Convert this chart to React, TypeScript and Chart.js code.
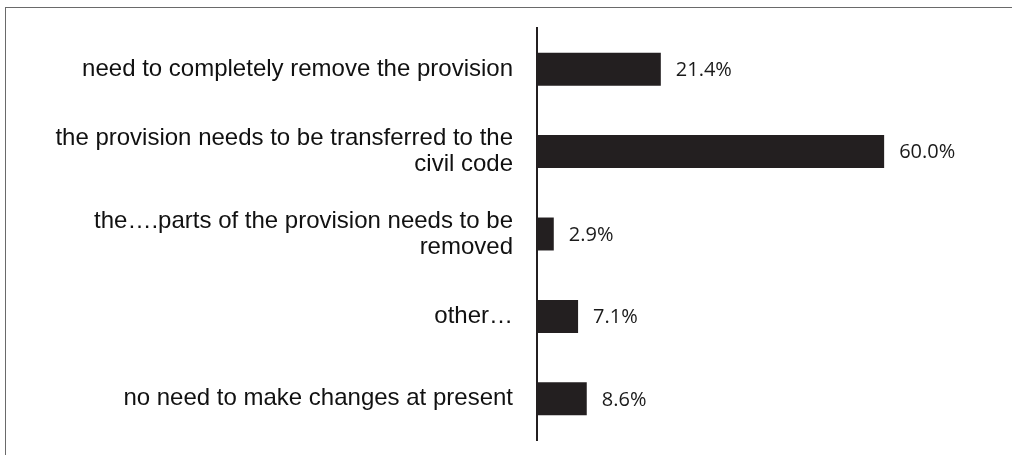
import React, { useEffect, useRef } from "react";
import { Chart, registerables } from "chart.js";

Chart.register(...registerables);

const categories: (string | string[])[] = [
  "need to completely remove the provision",
  ["the provision needs to be transferred to the", "civil code"],
  ["the\u2026.parts of the provision needs to be", "removed"],
  "other\u2026",
  "no need to make changes at present",
];
const values: number[] = [21.4, 60.0, 2.9, 7.1, 8.6];
const valueLabels: string[] = ["21.4%", "60.0%", "2.9%", "7.1%", "8.6%"];

const valueLabelPlugin = {
  id: "valueLabels",
  afterDatasetsDraw(chart: any) {
    const ctx = chart.ctx;
    const meta = chart.getDatasetMeta(0);
    ctx.save();
    ctx.font = '20px "Open Sans"';
    ctx.fillStyle = "#1a1a1a";
    ctx.textAlign = "left";
    ctx.textBaseline = "middle";
    meta.data.forEach((bar: any, i: number) => {
      ctx.fillText(valueLabels[i], bar.x + 15, bar.y + 1);
    });
    ctx.restore();
  },
};

export default function App() {
  const canvasRef = useRef<HTMLCanvasElement | null>(null);

  useEffect(() => {
    if (!canvasRef.current) return;
    const chart = new Chart(canvasRef.current, {
      type: "bar",
      data: {
        labels: categories,
        datasets: [
          {
            data: values,
            backgroundColor: "#231F20",
            borderWidth: 0,
            categoryPercentage: 0.8,
            barPercentage: 0.5,
          },
        ],
      },
      options: {
        indexAxis: "y",
        responsive: false,
        animation: false,
        layout: { padding: { top: 28, bottom: 15, right: 70, left: 0 } },
        plugins: {
          legend: { display: false },
          tooltip: { enabled: false },
        },
        scales: {
          x: {
            display: false,
            min: 0,
            max: 70,
          },
          y: {
            afterFit: (scale: any) => {
              scale.width = 537;
            },
            grid: { display: false, drawTicks: true, tickLength: 24 },
            border: { display: true, color: "#231F20", width: 2 },
            ticks: {
              padding: 0,
              color: "#111",
              font: { family: '"Liberation Sans", Arial, sans-serif', size: 24, lineHeight: 1.08 },
            },
          },
        },
      },
      plugins: [valueLabelPlugin],
    });
    return () => chart.destroy();
  }, []);

  return (
    <div style={{ position: "fixed", left: 0, top: 0, width: 1012, height: 455, background: "#fff", overflow: "hidden" }}>
      <div
        style={{
          position: "absolute",
          left: 4.5,
          top: 6.5,
          width: 1100,
          height: 500,
          borderTop: "1.5px solid #6a6a6a",
          borderLeft: "1.5px solid #6a6a6a",
          boxSizing: "border-box",
        }}
      />
      <canvas ref={canvasRef} width={1012} height={455} style={{ position: "absolute", left: 0, top: 0 }} />
    </div>
  );
}
